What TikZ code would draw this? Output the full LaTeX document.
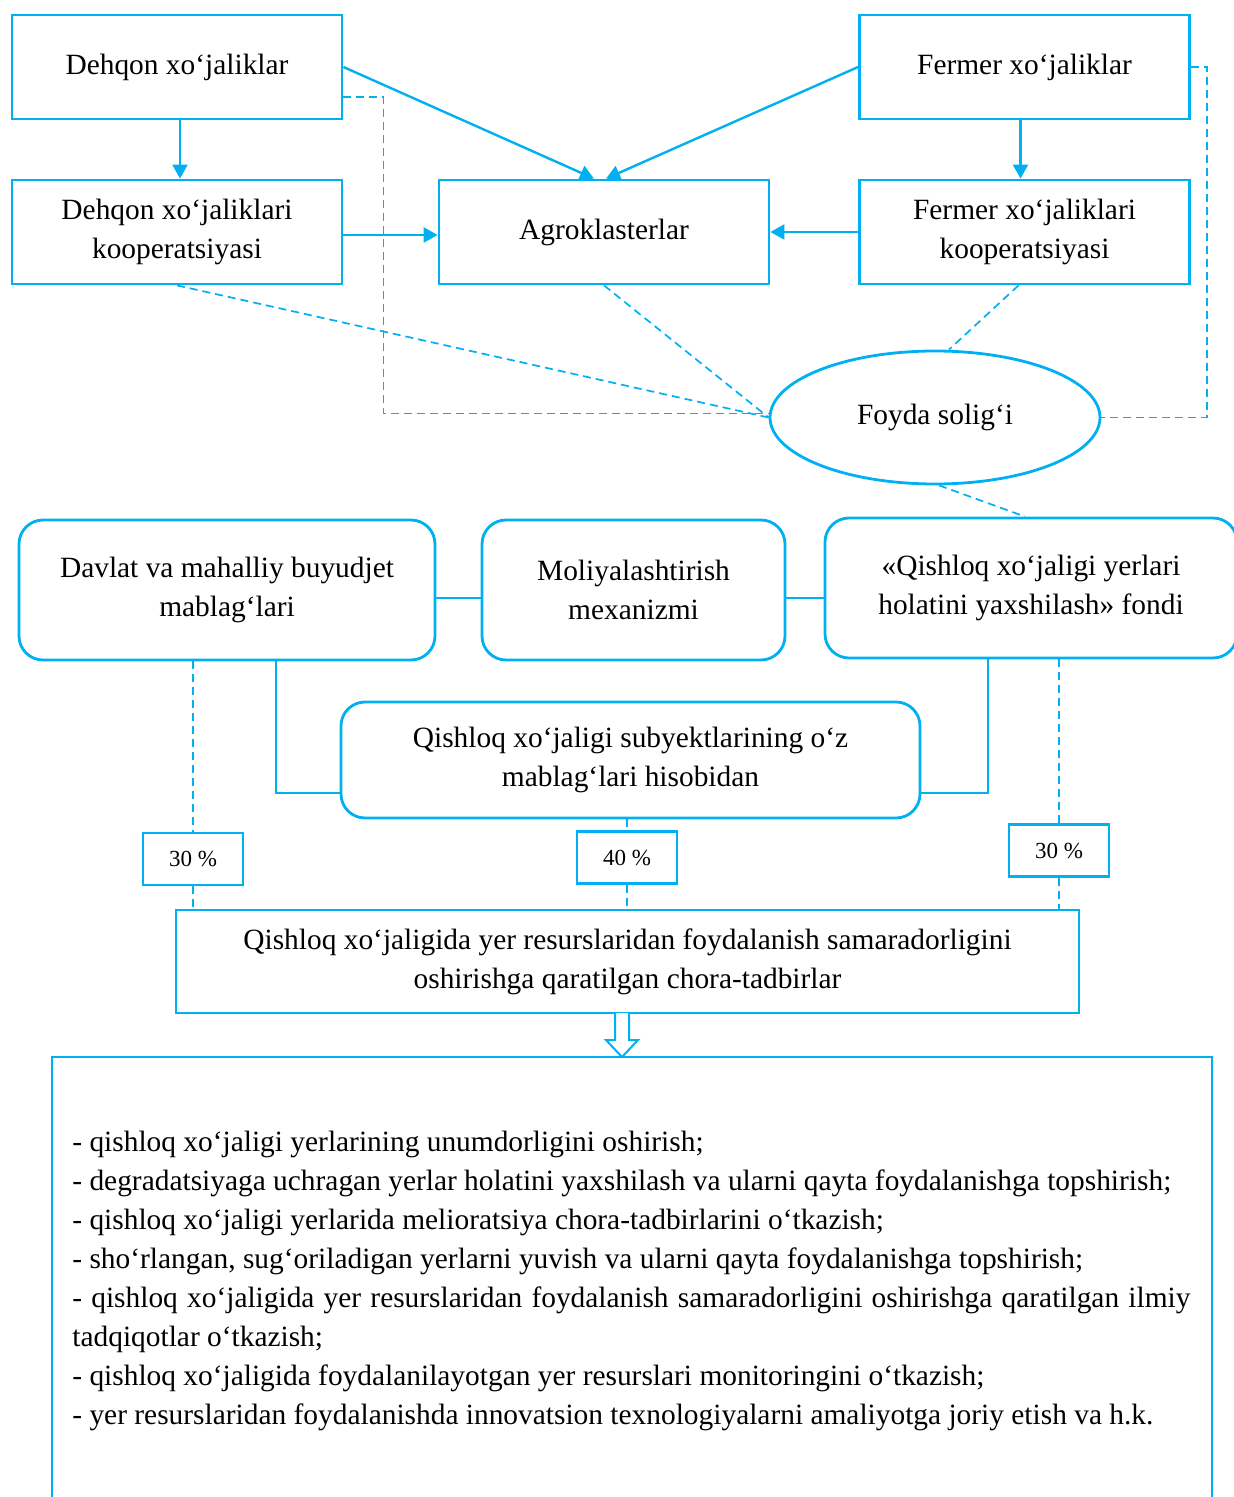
\documentclass[tikz,border=0pt]{standalone}
\usepackage{fontspec}
\setmainfont{Liberation Serif}
\usetikzlibrary{shapes.geometric,arrows.meta}
\definecolor{skyblue}{RGB}{0,176,240}
\begin{document}
\begin{tikzpicture}[x=0.5pt,y=-0.5pt,font=\fontsize{14.7}{19.45}\selectfont]
        \tikzstyle{block}=[rectangle,draw=skyblue,line width=1.4pt,align=center,inner sep=0pt,minimum width=165pt,minimum height=52pt]
        \tikzstyle{rblock}=[block,rounded corners=12pt,minimum height=70pt]
        \tikzstyle{pct}=[block,minimum width=50pt,minimum height=26pt,font=\fontsize{11.5}{14}\selectfont]
        \tikzstyle{arr}=[draw=skyblue,line width=1.2pt,-{Triangle[length=7pt,width=7.5pt]}]
        \tikzstyle{link}=[draw=skyblue,line width=1.2pt]
        \tikzstyle{dlink}=[draw=skyblue,line width=0.85pt,dash pattern=on 4pt off 2.5pt]
        \useasboundingbox (0,0) rectangle (1234,1497);
        \clip (0,0) rectangle (1234,1497);
        % top part
        \node [block] (dehqon) at (177,67) {Dehqon xo‘jaliklar};
        \node [block] (fermer) at (1024.5,67) {Fermer xo‘jaliklar};
        \node [block] (dkoop) at (177,232) {Dehqon xo‘jaliklari\\kooperatsiyasi};
        \node [block] (agro) at (604,232) {Agroklasterlar};
        \node [block] (fkoop) at (1024.5,232) {Fermer xo‘jaliklari\\kooperatsiyasi};
        \node [ellipse,draw=skyblue,line width=1.4pt,inner sep=0pt,minimum width=165pt,minimum height=66.5pt] (foyda) at (935,417.5) {Foyda solig‘i};
        \path[arr] (dehqon.east) -- ([xshift=-5pt]agro.north);
        \path[arr] (fermer.west) -- ([xshift=1pt]agro.north);
        \path[arr] ([xshift=1.5pt]dehqon.south) -- ([xshift=1.5pt]dkoop.north);
        \path[arr] ([xshift=-2pt]fermer.south) -- ([xshift=-2pt]fkoop.north);
        \path[arr] ([yshift=-1.5pt]dkoop.east) -- ([yshift=-1.5pt]agro.west);
        \path[arr] (fkoop.west) -- (agro.east);
        \path[dlink] ([yshift=-15pt]dehqon.east) -- ++(40,0) |- ([yshift=2pt]foyda.west);
        \path[dlink] (dkoop.south) -- (foyda.west);
        \path[dlink] (agro.south) -- (foyda.west);
        \path[dlink] ([xshift=-3pt]fkoop.south) -- ([xshift=7pt]foyda.north);
        \path[dlink] (fermer.east) -- ++(16,0) |- (foyda.east);
        % financing sources
        \node [rblock,minimum width=208pt] (davlat) at (227,590) {Davlat va mahalliy buyudjet\\mablag‘lari};
        \node [rblock,minimum width=151.5pt] (molia) at (633.5,590) {Moliyalashtirish\\mexanizmi};
        \node [rblock,minimum width=206pt] (fond) at (1031,588) {«Qishloq xo‘jaligi yerlari\\holatini yaxshilash» fondi};
        \node [rblock,minimum width=289.5pt,minimum height=58pt] (subyekt) at (630.5,760) {Qishloq xo‘jaligi subyektlarining o‘z\\mablag‘lari hisobidan};
        \path[dlink] ([xshift=2pt]foyda.south) -- ([xshift=-3pt]fond.north);
        \path[link] ([yshift=-4pt]davlat.east) -- ([yshift=-4pt]molia.west);
        \path[link] ([yshift=-4pt]molia.east) -- ([yshift=-4pt]molia.east -| fond.west);
        \path[link] ([xshift=24.5pt]davlat.south) |- ([yshift=-16.5pt]subyekt.west);
        \path[link] ([xshift=-21.5pt]fond.south) |- ([yshift=-16.5pt]subyekt.east);
        % shares
        \node [pct] (p1) at (193,859) {30 \%};
        \node [pct] (p2) at (627,857.5) {40 \%};
        \node [pct] (p3) at (1059,850.5) {30 \%};
        \node [block,minimum width=451.5pt,minimum height=51.5pt] (chora) at (627.5,961.5) {Qishloq xo‘jaligida yer resurslaridan foydalanish samaradorligini\\oshirishga qaratilgan chora-tadbirlar};
        \path[dlink] (p1.north |- davlat.south) -- (p1.north);
        \path[dlink] (p1.south) -- (p1.south |- chora.north);
        \path[dlink] (p2.north |- subyekt.south) -- (p2.north);
        \path[dlink] (p2.south) -- (p2.south |- chora.north);
        \path[dlink] (p3.north |- fond.south) -- (p3.north);
        \path[dlink] (p3.south) -- (p3.south |- chora.north);
        % measures
        \node [block,minimum width=580pt,minimum height=235pt] (natija) at (632,1292) {};
        \coordinate (tail) at (622,1013);
        \draw[draw=skyblue,line width=1pt,fill=white] (tail) ++(-7,0) -- ++(0,27) -- ++(-9,0) -- ++(16,17) -- ++(16,-17) -- ++(-9,0) -- ++(0,-27);
        \node [anchor=north west,inner sep=0pt,text width=559pt,align=justify] (list) at (72,1131) {\parindent=0pt
          - qishloq xo‘jaligi yerlarining unumdorligini oshirish;\par
          - degradatsiyaga uchragan yerlar holatini yaxshilash va ularni qayta foydalanishga topshirish;\par
          - qishloq xo‘jaligi yerlarida melioratsiya chora-tadbirlarini o‘tkazish;\par
          - sho‘rlangan, sug‘oriladigan yerlarni yuvish va ularni qayta foydalanishga topshirish;\par
          - qishloq xo‘jaligida yer resurslaridan foydalanish samaradorligini oshirishga qaratilgan ilmiy\linebreak tadqiqotlar o‘tkazish;\par
          - qishloq xo‘jaligida foydalanilayotgan yer resurslari monitoringini o‘tkazish;\par
          - yer resurslaridan foydalanishda innovatsion texnologiyalarni amaliyotga joriy etish va h.k.};
\end{tikzpicture}
\end{document}
